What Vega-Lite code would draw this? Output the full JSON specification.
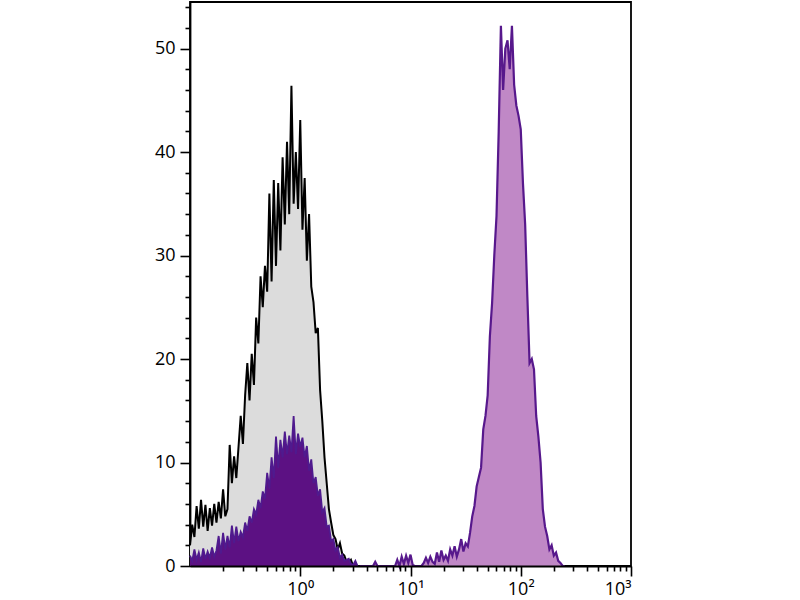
{
  "$schema": "https://vega.github.io/schema/vega-lite/v6.json",
  "width": 441,
  "height": 564,
  "autosize": "none",
  "padding": {"left": 190, "top": 2, "right": 169, "bottom": 34},
  "background": "white",
  "data": {
    "values": [
      {"x": 0.1, "ctrl": 2.0, "low": 1.0},
      {"x": 0.10471, "ctrl": 4.0, "low": 0.5},
      {"x": 0.10965, "ctrl": 2.8, "low": 1.6},
      {"x": 0.11482, "ctrl": 5.8, "low": 0.6},
      {"x": 0.12023, "ctrl": 3.6, "low": 1.3},
      {"x": 0.12589, "ctrl": 6.4, "low": 0.4},
      {"x": 0.13183, "ctrl": 3.8, "low": 1.7},
      {"x": 0.13804, "ctrl": 5.9, "low": 0.7},
      {"x": 0.14454, "ctrl": 3.4, "low": 1.4},
      {"x": 0.15136, "ctrl": 5.6, "low": 0.8},
      {"x": 0.15849, "ctrl": 3.9, "low": 1.8},
      {"x": 0.16596, "ctrl": 6.0, "low": 0.9},
      {"x": 0.17378, "ctrl": 4.2, "low": 1.5},
      {"x": 0.18197, "ctrl": 6.2, "low": 2.9},
      {"x": 0.19055, "ctrl": 4.6, "low": 1.2},
      {"x": 0.19953, "ctrl": 7.4, "low": 3.2},
      {"x": 0.20893, "ctrl": 4.8, "low": 1.6},
      {"x": 0.21878, "ctrl": 5.5, "low": 2.9},
      {"x": 0.22909, "ctrl": 11.7, "low": 1.8},
      {"x": 0.23988, "ctrl": 8.0, "low": 3.9},
      {"x": 0.25119, "ctrl": 10.6, "low": 2.2},
      {"x": 0.26303, "ctrl": 8.5, "low": 3.8},
      {"x": 0.27542, "ctrl": 11.5, "low": 2.4},
      {"x": 0.2884, "ctrl": 14.5, "low": 3.3},
      {"x": 0.302, "ctrl": 11.8, "low": 2.8},
      {"x": 0.31623, "ctrl": 16.5, "low": 4.2},
      {"x": 0.33113, "ctrl": 19.6, "low": 3.4},
      {"x": 0.34674, "ctrl": 16.0, "low": 4.8},
      {"x": 0.36308, "ctrl": 20.5, "low": 4.2},
      {"x": 0.38019, "ctrl": 17.5, "low": 5.5},
      {"x": 0.39811, "ctrl": 24.0, "low": 5.0},
      {"x": 0.41687, "ctrl": 21.5, "low": 6.4},
      {"x": 0.43652, "ctrl": 28.0, "low": 5.6},
      {"x": 0.45709, "ctrl": 25.0, "low": 7.2},
      {"x": 0.47863, "ctrl": 29.0, "low": 6.5},
      {"x": 0.50119, "ctrl": 26.5, "low": 9.0},
      {"x": 0.52481, "ctrl": 36.0, "low": 7.5},
      {"x": 0.54954, "ctrl": 27.5, "low": 10.5},
      {"x": 0.57544, "ctrl": 37.3, "low": 8.5},
      {"x": 0.60256, "ctrl": 29.0, "low": 12.5},
      {"x": 0.63096, "ctrl": 37.0, "low": 9.5},
      {"x": 0.66069, "ctrl": 30.5, "low": 12.2},
      {"x": 0.69183, "ctrl": 39.5, "low": 10.5},
      {"x": 0.72444, "ctrl": 33.0, "low": 13.0},
      {"x": 0.75858, "ctrl": 41.0, "low": 10.8},
      {"x": 0.79433, "ctrl": 34.0, "low": 12.6},
      {"x": 0.83176, "ctrl": 46.4, "low": 11.0},
      {"x": 0.87096, "ctrl": 35.0, "low": 14.5},
      {"x": 0.91201, "ctrl": 40.0, "low": 10.8},
      {"x": 0.95499, "ctrl": 34.5, "low": 12.8},
      {"x": 1, "ctrl": 43.1, "low": 11.5},
      {"x": 1.0471, "ctrl": 32.5, "low": 12.4},
      {"x": 1.0965, "ctrl": 37.5, "low": 10.5},
      {"x": 1.1482, "ctrl": 29.5, "low": 11.6},
      {"x": 1.2023, "ctrl": 34.0, "low": 9.2},
      {"x": 1.2589, "ctrl": 27.0, "low": 10.3},
      {"x": 1.3183, "ctrl": 25.5, "low": 8.0},
      {"x": 1.3804, "ctrl": 22.5, "low": 8.6},
      {"x": 1.4454, "ctrl": 23.0, "low": 6.8},
      {"x": 1.5136, "ctrl": 17.0, "low": 7.4},
      {"x": 1.5849, "ctrl": 14.0, "low": 5.2},
      {"x": 1.6596, "ctrl": 10.5, "low": 5.6},
      {"x": 1.7378, "ctrl": 8.0, "low": 3.8},
      {"x": 1.8197, "ctrl": 5.5, "low": 3.9},
      {"x": 1.9055, "ctrl": 4.2, "low": 2.4},
      {"x": 1.9953, "ctrl": 3.0, "low": 2.6},
      {"x": 2.0893, "ctrl": 2.6, "low": 1.5},
      {"x": 2.1878, "ctrl": 1.6, "low": 1.8},
      {"x": 2.2909, "ctrl": 2.2, "low": 0.8},
      {"x": 2.3988, "ctrl": 1.2, "low": 1.1},
      {"x": 2.5119, "ctrl": 1.0, "low": 0.5},
      {"x": 2.6303, "ctrl": 0.4, "low": 0.6},
      {"x": 2.7542, "ctrl": 0.3, "low": 0.7},
      {"x": 2.884, "ctrl": 0.6, "low": 0.2},
      {"x": 3.02, "ctrl": 0.0, "low": 0.1},
      {"x": 3.1623, "ctrl": 0.0, "low": 0.5},
      {"x": 3.3113, "low": 0.0},
      {"x": 3.4674, "high": 0},
      {"x": 3.6308, "high": 0},
      {"x": 3.8019, "high": 0},
      {"x": 3.9811, "high": 0},
      {"x": 4.1687, "high": 0},
      {"x": 4.3652, "high": 0},
      {"x": 4.5709, "high": 0},
      {"x": 4.7863, "high": 0.4},
      {"x": 5.0119, "high": 0},
      {"x": 5.2481, "high": 0},
      {"x": 5.4954, "high": 0},
      {"x": 5.7544, "high": 0},
      {"x": 6.0256, "high": 0},
      {"x": 6.3096, "high": 0},
      {"x": 6.6069, "high": 0},
      {"x": 6.9183, "high": 0},
      {"x": 7.2444, "high": 0},
      {"x": 7.5858, "high": 0.6},
      {"x": 7.9433, "high": 0},
      {"x": 8.3176, "high": 0.9},
      {"x": 8.7096, "high": 0.2},
      {"x": 9.1201, "high": 1.0},
      {"x": 9.5499, "high": 0.3},
      {"x": 10, "high": 1.1},
      {"x": 10.471, "high": 0.1},
      {"x": 10.965, "high": 0},
      {"x": 11.482, "high": 0},
      {"x": 12.023, "high": 0},
      {"x": 12.589, "high": 0},
      {"x": 13.183, "high": 0.3},
      {"x": 13.804, "high": 0.8},
      {"x": 14.454, "high": 0.3},
      {"x": 15.136, "high": 0.9},
      {"x": 15.849, "high": 0.4},
      {"x": 16.596, "high": 0.2},
      {"x": 17.378, "high": 1.3},
      {"x": 18.197, "high": 0.4},
      {"x": 19.055, "high": 1.5},
      {"x": 19.953, "high": 0.6},
      {"x": 20.893, "high": 1.0},
      {"x": 21.878, "high": 0.5},
      {"x": 22.909, "high": 1.6},
      {"x": 23.988, "high": 1.0},
      {"x": 25.119, "high": 1.9},
      {"x": 26.303, "high": 0.9},
      {"x": 27.542, "high": 1.6},
      {"x": 28.84, "high": 2.6},
      {"x": 30.2, "high": 1.4},
      {"x": 31.623, "high": 2.2},
      {"x": 33.113, "high": 1.9},
      {"x": 34.674, "high": 3.2},
      {"x": 36.308, "high": 4.8},
      {"x": 38.019, "high": 5.8},
      {"x": 39.811, "high": 7.7},
      {"x": 41.687, "high": 8.6},
      {"x": 43.652, "high": 9.5},
      {"x": 45.709, "high": 13.2},
      {"x": 47.863, "high": 14.5},
      {"x": 50.119, "high": 16.5},
      {"x": 52.481, "high": 22.2},
      {"x": 54.954, "high": 25.4},
      {"x": 57.544, "high": 30.0},
      {"x": 60.256, "high": 33.8},
      {"x": 63.096, "high": 42.0},
      {"x": 66.069, "high": 52.2},
      {"x": 69.183, "high": 46.0},
      {"x": 72.444, "high": 50.0},
      {"x": 75.858, "high": 50.8},
      {"x": 79.433, "high": 48.0},
      {"x": 83.176, "high": 52.2},
      {"x": 87.096, "high": 46.5},
      {"x": 91.201, "high": 44.5},
      {"x": 95.499, "high": 43.5},
      {"x": 100, "high": 42.2},
      {"x": 104.71, "high": 37.0},
      {"x": 109.65, "high": 33.0},
      {"x": 114.82, "high": 26.0},
      {"x": 120.23, "high": 19.6},
      {"x": 125.89, "high": 20.0},
      {"x": 131.83, "high": 19.0},
      {"x": 138.04, "high": 14.5},
      {"x": 144.54, "high": 12.5},
      {"x": 151.36, "high": 10.0},
      {"x": 158.49, "high": 5.5},
      {"x": 165.96, "high": 3.8},
      {"x": 173.78, "high": 2.9},
      {"x": 181.97, "high": 1.6},
      {"x": 190.55, "high": 2.0},
      {"x": 199.53, "high": 1.0},
      {"x": 208.93, "high": 1.3},
      {"x": 218.78, "high": 0.5},
      {"x": 229.09, "high": 0.3},
      {"x": 239.88, "high": 0},
      {"x": 251.19, "high": 0}
    ]
  },
  "transform": [
    {"fold": ["ctrl", "low", "high"], "as": ["series", "count"]},
    {"filter": {"field": "count", "valid": true}}
  ],
  "encoding": {
    "x": {
      "field": "x",
      "type": "quantitative",
      "scale": {"type": "log", "domain": [0.1, 1000], "nice": false},
      "axis": {
        "title": null,
        "zindex": 1,
        "values": [0.2, 0.3, 0.4, 0.5, 0.6, 0.7, 0.8, 0.9, 1, 2, 3, 4, 5, 6, 7, 8, 9, 10, 20, 30, 40, 50, 60, 70, 80, 90, 100, 200, 300, 400, 500, 600, 700, 800, 900, 1000],
        "tickSize": {"condition": {"test": "abs(log(datum.value) / LN10 - round(log(datum.value) / LN10)) < 0.001", "value": 10}, "value": 5},
        "labelExpr": "abs(log(datum.value) / LN10 - round(log(datum.value) / LN10)) < 0.001 ? '10' + ['⁰', '¹', '²', '³'][round(log(datum.value) / LN10)] : ''",
        "labelOverlap": false,
        "labelPadding": 4
      }
    },
    "y": {
      "field": "count",
      "type": "quantitative",
      "stack": null,
      "scale": {"domain": [0, 54.5], "nice": false},
      "axis": {
        "title": null,
        "values": [0, 2, 4, 6, 8, 10, 12, 14, 16, 18, 20, 22, 24, 26, 28, 30, 32, 34, 36, 38, 40, 42, 44, 46, 48, 50, 52, 54],
        "tickSize": {"condition": {"test": "datum.value % 10 === 0", "value": 10}, "value": 5},
        "labelExpr": "datum.value % 10 === 0 ? datum.label : ''",
        "labelOverlap": false,
        "labelPadding": 5
      }
    }
  },
  "layer": [
    {
      "transform": [{"filter": {"field": "series", "equal": "ctrl"}}],
      "layer": [
        {"mark": {"type": "area", "color": "#dcdcdc"}, "encoding": {}},
        {"mark": {"type": "line", "color": "#000000", "strokeWidth": 2}, "encoding": {}}
      ]
    },
    {
      "transform": [{"filter": {"field": "series", "equal": "low"}}],
      "layer": [
        {"mark": {"type": "area", "color": "#5c1183"}, "encoding": {}},
        {"mark": {"type": "line", "color": "#4f1a8e", "strokeWidth": 1.8}, "encoding": {}}
      ]
    },
    {
      "transform": [{"filter": {"field": "series", "equal": "high"}}],
      "layer": [
        {"mark": {"type": "area", "color": "#c088c6"}, "encoding": {}},
        {"mark": {"type": "line", "color": "#57188c", "strokeWidth": 2.2}, "encoding": {}}
      ]
    }
  ],
  "config": {
    "view": {"stroke": "#000000", "strokeWidth": 1.8},
    "axis": {
      "grid": false,
      "domainColor": "#000000",
      "domainWidth": 1.8,
      "tickColor": "#000000",
      "tickWidth": 1.6,
      "labelColor": "#000000",
      "labelFont": "Open Sans",
      "labelFontSize": 18
    }
  }
}
